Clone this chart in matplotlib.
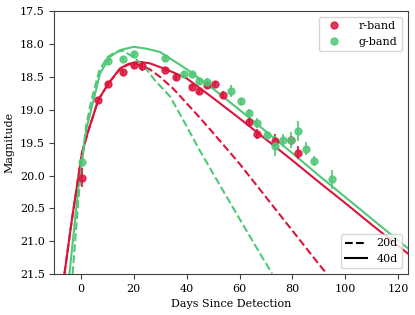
import matplotlib
matplotlib.use('Agg')
import matplotlib.pyplot as plt
from matplotlib.lines import Line2D
import numpy as np

plt.rcParams['font.family'] = 'DejaVu Serif'

r_days = [0.5, 6.4, 10.4, 16.1, 20.1, 23.0, 32.0, 36.0, 41.9, 44.8, 47.6, 50.7, 53.6, 63.5, 66.5, 73.4, 79.3, 82.2]
r_mag = [20.03, 18.85, 18.60, 18.43, 18.32, 18.33, 18.39, 18.50, 18.65, 18.72, 18.62, 18.60, 18.78, 19.18, 19.37, 19.47, 19.46, 19.65]
r_err = [0.15, 0.05, 0.04, 0.04, 0.04, 0.08, 0.04, 0.04, 0.04, 0.04, 0.04, 0.04, 0.06, 0.05, 0.08, 0.10, 0.06, 0.10]

g_days = [0.4, 10.4, 16.1, 20.1, 32.0, 39.0, 41.9, 44.8, 47.8, 56.7, 60.4, 63.5, 66.5, 70.5, 73.4, 76.3, 79.3, 82.2, 85.1, 88.1, 94.9]
g_mag = [19.80, 18.26, 18.22, 18.15, 18.21, 18.45, 18.46, 18.56, 18.57, 18.71, 18.87, 19.05, 19.20, 19.39, 19.55, 19.46, 19.46, 19.32, 19.59, 19.78, 20.06]
g_err = [0.05, 0.04, 0.04, 0.04, 0.04, 0.04, 0.04, 0.04, 0.05, 0.09, 0.05, 0.07, 0.07, 0.05, 0.15, 0.10, 0.12, 0.15, 0.10, 0.07, 0.14]

# model curves
r40_days = [-6.2, -3.4, 0.4, 2.9, 6.6, 10.4, 14.8, 18, 22, 26, 30, 35, 40, 50, 60, 70, 80, 90, 100, 110, 120, 124]
r40_mag = [21.5, 20.68, 19.66, 19.31, 18.85, 18.60, 18.37, 18.30, 18.27, 18.29, 18.35, 18.43, 18.52, 18.82, 19.13, 19.45, 19.77, 20.10, 20.42, 20.75, 21.07, 21.20]
g40_days = [-4.3, -0.9, 0.4, 2.0, 4.2, 7.3, 11.1, 14.8, 20, 25, 30, 40, 50, 60, 70, 80, 90, 100, 110, 120, 124]
g40_mag = [21.5, 20.17, 19.80, 19.31, 18.95, 18.44, 18.19, 18.09, 18.04, 18.07, 18.12, 18.38, 18.68, 19.00, 19.33, 19.66, 20.00, 20.33, 20.66, 20.99, 21.12]
r20_days = [-6.2, -3.4, 0.4, 2.9, 6.6, 10.4, 14.8, 18, 21, 26, 30, 35, 40, 45, 50, 60, 70, 80, 90, 93]
r20_mag = [21.5, 20.68, 19.66, 19.31, 18.85, 18.60, 18.38, 18.31, 18.30, 18.38, 18.50, 18.68, 18.90, 19.12, 19.35, 19.82, 20.33, 20.84, 21.35, 21.5]
g20_days = [-3.1, -1.0, 0.4, 2.0, 4.0, 7.0, 10.0, 13.0, 16.0, 20.0, 24.0, 28.0, 33.8, 40.0, 44.7, 50.0, 60.0, 68.5, 72.3]
g20_mag = [21.5, 20.40, 19.80, 19.25, 18.85, 18.40, 18.20, 18.12, 18.10, 18.20, 18.34, 18.55, 18.80, 19.25, 19.60, 19.97, 20.66, 21.24, 21.49]

red = '#DC143C'
green = '#50C878'

fig, ax = plt.subplots(figsize=(4.15, 3.15), dpi=100)
fig.subplots_adjust(left=0.131, right=0.982, top=0.964, bottom=0.130)

ax.plot(r40_days, r40_mag, color=red, lw=1.5, ls='-')
ax.plot(g40_days, g40_mag, color=green, lw=1.5, ls='-')
ax.plot(r20_days, r20_mag, color=red, lw=1.5, ls='--')
ax.plot(g20_days, g20_mag, color=green, lw=1.5, ls='--')

ax.errorbar(r_days, r_mag, yerr=r_err, fmt='o', color=red, ms=5, elinewidth=1.5, alpha=0.85)
ax.errorbar(g_days, g_mag, yerr=g_err, fmt='o', color=green, ms=5, elinewidth=1.5, alpha=0.85)

#####################################################################
# format:
ax.set_xlim(-10, 123.5)
ax.set_ylim(21.5, 17.5)
ax.set_yticks(np.arange(17.5, 21.51, 0.5))
ax.set_xticks(range(0, 121, 20))
ax.tick_params(labelsize=8, color='0.25')
for sp in ax.spines.values():
    sp.set_color('0.25')
ax.set_xlabel('Days Since Detection', fontsize=8)
ax.set_ylabel('Magnitude', fontsize=8)

band_handles = [Line2D([], [], color=red, marker='o', ls='none', ms=5, alpha=0.85),
                Line2D([], [], color=green, marker='o', ls='none', ms=5, alpha=0.85)]
leg1 = ax.legend(band_handles, ['r-band', 'g-band'], loc='upper right', fontsize=8, handletextpad=1.2)
ax.add_artist(leg1)
handles = [Line2D([], [], color='k', ls='--', lw=1.5), Line2D([], [], color='k', ls='-', lw=1.5)]
ax.legend(handles, ['20d', '40d'], loc='lower right', fontsize=8)

fig.savefig('out.png')
